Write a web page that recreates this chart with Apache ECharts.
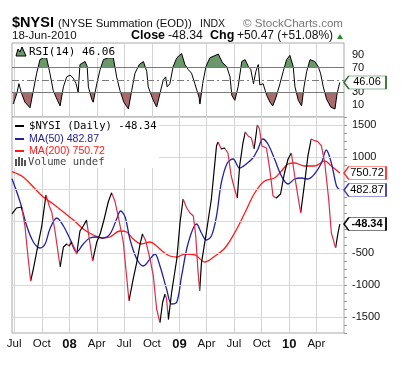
<!DOCTYPE html>
<html><head><meta charset="utf-8">
<script src="https://cdn.jsdelivr.net/npm/echarts@6/dist/echarts.min.js"></script>
<style>html,body{margin:0;padding:0;background:#fff}#c{width:414px;height:369px}</style>
</head><body><div id="c"></div>
<script>
// ---------------- DATA ----------------
const nysiDates = ['2007-06-24','2007-07-09','2007-07-26','2007-08-06','2007-08-17','2007-08-25','2007-09-03','2007-09-14','2007-10-01','2007-10-15','2007-10-26','2007-11-03','2007-11-14','2007-12-01','2007-12-12','2007-12-23','2007-12-31','2008-01-08','2008-01-19','2008-01-25','2008-02-05','2008-02-16','2008-02-27','2008-03-07','2008-03-18','2008-04-01','2008-04-12','2008-04-23','2008-05-09','2008-05-20','2008-05-31','2008-06-11','2008-06-28','2008-07-09','2008-07-17','2008-07-31','2008-08-12','2008-08-23','2008-08-31','2008-09-11','2008-09-25','2008-10-06','2008-10-17','2008-10-28','2008-11-06','2008-11-14','2008-11-19','2008-11-25','2008-12-06','2008-12-23','2009-01-03','2009-01-13','2009-01-25','2009-02-05','2009-02-16','2009-02-24','2009-03-03','2009-03-09','2009-03-15','2009-03-31','2009-04-17','2009-05-04','2009-05-09','2009-05-20','2009-05-31','2009-06-11','2009-06-22','2009-07-03','2009-07-12','2009-07-20','2009-07-31','2009-08-08','2009-08-17','2009-08-28','2009-09-06','2009-09-17','2009-09-24','2009-10-02','2009-10-17','2009-10-28','2009-11-08','2009-11-19','2009-12-03','2009-12-16','2009-12-28','2010-01-08','2010-01-19','2010-01-28','2010-02-08','2010-02-21','2010-03-04','2010-03-15','2010-03-26','2010-04-06','2010-04-18','2010-04-29','2010-05-12','2010-05-21','2010-06-04','2010-06-12','2010-06-18'];
const nysiValues = [110,203,219,-78,-594,-938,-750,-484,-78,406,234,141,-156,-719,-406,-359,-391,-328,-438,-516,-156,-78,16,-281,-625,-328,-203,-16,297,440,313,78,-328,-859,-1250,-906,-641,-359,-203,-313,-594,-859,-1375,-1590,-1266,-1141,-1219,-1540,-1109,-594,-16,344,203,125,78,-234,-750,-1094,-656,-188,344,1172,1234,1125,1141,1063,703,500,359,859,1219,1391,1328,1297,1125,1500,1438,1172,1141,813,391,359,422,750,969,1063,703,438,125,594,1016,1281,1255,1240,1172,906,344,-188,-420,-188,-48.34];

const ma50Dates = ['2007-06-24','2007-07-21','2007-08-12','2007-09-03','2007-09-25','2007-10-12','2007-10-28','2007-11-20','2007-12-12','2008-01-03','2008-01-25','2008-02-16','2008-03-09','2008-04-01','2008-04-23','2008-05-15','2008-06-06','2008-06-19','2008-07-04','2008-07-20','2008-08-12','2008-09-03','2008-09-25','2008-10-11','2008-10-28','2008-11-19','2008-12-06','2008-12-23','2009-01-08','2009-01-30','2009-02-27','2009-03-15','2009-03-31','2009-04-17','2009-05-04','2009-05-20','2009-06-09','2009-06-28','2009-07-20','2009-08-11','2009-09-02','2009-09-19','2009-10-05','2009-10-22','2009-11-13','2009-12-06','2009-12-28','2010-01-19','2010-02-10','2010-03-04','2010-03-26','2010-04-18','2010-05-04','2010-05-21','2010-06-07','2010-06-18'];
const ma50Values = [660,297,-78,-328,-422,-359,-125,47,-78,-281,-484,-359,-266,-250,-266,-203,31,156,63,-281,-594,-703,-594,-516,-703,-1063,-1297,-1266,-859,-344,-47,-188,-297,-234,78,594,906,969,828,891,984,1125,1281,1203,969,703,578,656,672,656,734,906,1109,906,547,482.87];

const ma200Dates = ['2007-06-24','2007-07-31','2007-09-03','2007-10-06','2007-11-08','2007-12-12','2008-01-14','2008-02-16','2008-03-20','2008-04-17','2008-05-15','2008-06-17','2008-07-09','2008-07-31','2008-08-28','2008-09-25','2008-10-17','2008-11-08','2008-11-30','2008-12-23','2009-01-19','2009-02-21','2009-03-27','2009-04-29','2009-06-01','2009-07-03','2009-08-06','2009-09-08','2009-10-11','2009-11-13','2009-12-06','2009-12-28','2010-01-19','2010-02-21','2010-03-26','2010-04-29','2010-05-21','2010-06-18'];
const ma200Values = [770,688,531,375,266,141,16,-125,-219,-266,-250,-156,-172,-281,-359,-328,-391,-484,-547,-563,-516,-531,-641,-547,-422,-188,125,438,625,672,781,891,906,859,859,938,859,750.72];

const rsiDates = ['2007-06-28','2007-07-10','2007-07-17','2007-07-26','2007-08-06','2007-08-23','2007-09-03','2007-09-14','2007-09-25','2007-10-06','2007-10-17','2007-10-28','2007-11-08','2007-11-22','2007-12-01','2007-12-12','2007-12-23','2008-01-03','2008-01-14','2008-01-23','2008-01-30','2008-02-05','2008-02-22','2008-02-29','2008-03-04','2008-03-15','2008-03-20','2008-04-01','2008-04-12','2008-04-23','2008-05-09','2008-05-26','2008-06-06','2008-06-17','2008-06-30','2008-07-15','2008-07-26','2008-08-06','2008-08-20','2008-09-03','2008-09-14','2008-09-19','2008-10-04','2008-10-17','2008-10-28','2008-11-08','2008-11-16','2008-11-21','2008-11-30','2008-12-11','2008-12-23','2009-01-08','2009-01-19','2009-01-30','2009-02-10','2009-02-21','2009-03-07','2009-03-10','2009-03-19','2009-03-30','2009-04-12','2009-05-10','2009-05-24','2009-06-07','2009-06-18','2009-06-24','2009-07-04','2009-07-15','2009-07-27','2009-08-07','2009-08-18','2009-08-26','2009-09-04','2009-09-12','2009-09-20','2009-09-25','2009-10-06','2009-10-18','2009-10-29','2009-11-07','2009-11-18','2009-12-01','2009-12-12','2009-12-23','2010-01-03','2010-01-14','2010-01-20','2010-01-31','2010-02-11','2010-02-19','2010-02-28','2010-03-11','2010-03-27','2010-04-07','2010-04-15','2010-04-24','2010-05-05','2010-05-19','2010-06-02','2010-06-09','2010-06-18'];
const rsiValues = [11,28,44,28,14,5,33,61,83,86,86,61,33,17,8,39,55,58,53,44,30,75,80,72,39,19,14,44,67,83,86,86,55,33,14,3,33,61,75,80,64,39,19,6,28,50,55,39,44,72,86,93,75,67,61,44,22,11,44,72,86,92,78,72,55,25,17,39,80,83,72,67,44,64,75,42,44,25,14,8,22,44,64,83,90,72,39,17,8,39,64,83,80,72,61,39,19,6,3,28,46.06];

const xTickDates  = ['2007-07-01','2007-10-01','2008-01-01','2008-04-01','2008-07-01','2008-10-01','2009-01-01','2009-04-01','2009-07-01','2009-10-01','2010-01-01','2010-04-01'];
const xTickLabels = ['Jul','Oct','08','Apr','Jul','Oct','09','Apr','Jul','Oct','10','Apr'];
const yMainLabels = [1500,1000,-500,-1000,-1500];
const yMainGrid = [1500,1000,500,0,-500,-1000,-1500];
const yRsiLabels = [90,70,30,10];

// ---------------- BUILD ----------------
const START = Date.UTC(2007,5,24);
const N_DAYS = 1105;
function dayIdx(s){const p=s.split('-').map(Number);return Math.round((Date.UTC(p[0],p[1]-1,p[2])-START)/864e5);}
function fmtDay(i){return new Date(START+i*864e5).toISOString().slice(0,10);}
const categories = Array.from({length:N_DAYS},(_,i)=>fmtDay(i));
const pairs=(ds,vs)=>ds.map((d,i)=>[dayIdx(d),vs[i]]);
const tickMap = {}; xTickDates.forEach((d,i)=>tickMap[d]=xTickLabels[i]);
const isTick = (idx,val)=> tickMap.hasOwnProperty(val);
const LAST = N_DAYS-1;
const F = 'Liberation Sans, Arial, sans-serif';
const MONO = 'DejaVu Sans Mono, monospace';

// direction pieces for NYSI (black rising, red falling)
const nysiData = pairs(nysiDates,nysiValues);
const pieces = [];
for (let i=0;i<nysiData.length-1;i++){
  const up = nysiValues[i+1] >= nysiValues[i];
  const col = up ? '#000000' : '#dc2a45';
  const a = nysiData[i][0], b = nysiData[i+1][0];
  if (pieces.length && pieces[pieces.length-1].color===col) pieces[pieces.length-1].lt = b;
  else pieces.push({gte:a, lt:b, color:col});
}
pieces[0].gte = -10;
pieces[pieces.length-1].lt = N_DAYS+10;

function tag(value, border, bold){
  return {
    silent:true, z:20,
    symbol:'path://M0,6.5 L5,0 L44,0 L44,13 L5,13 Z',
    symbolSize:[42,13], symbolOffset:[21,0], symbolKeepAspect:false,
    itemStyle:{color:'#fff', borderColor:border, borderWidth:1},
    label:{show:true, position:'inside', offset:[2,0], formatter: value.toFixed(2), color:'#000', fontSize:11, fontWeight: bold?'bold':'normal', fontFamily:F},
    data:[{coord:[LAST, value]}]
  };
}

const xCommon = {
  type:'category', data:categories, boundaryGap:false,
  axisLine:{show:false}, axisTick:{show:false},
  splitLine:{show:true, interval:isTick, lineStyle:{color:'#d4d4d4', width:1}}
};

const option = {
  animation:false,
  backgroundColor:'#fff',
  grid:[
    {left:12, width:332, top:43, height:74, show:true, borderColor:'#a8a8a8', borderWidth:1, backgroundColor:'#fff'},
    {left:12, width:332, top:117, height:216, show:true, borderColor:'#a8a8a8', borderWidth:1, backgroundColor:'#fff'}
  ],
  xAxis:[
    Object.assign({gridIndex:0, axisLabel:{show:false}}, xCommon),
    Object.assign({gridIndex:1, axisLabel:{
      show:true, interval:isTick, margin:5, color:'#111', fontSize:11.5, fontFamily:F,
      formatter:(v)=>{const l=tickMap[v]; if(l===undefined) return ''; return /^\d+$/.test(l)?'{y|'+l+'}':l;},
      rich:{y:{fontWeight:'bold', fontSize:13, fontFamily:F, color:'#111'}}
    }}, xCommon)
  ],
  yAxis:[
    {gridIndex:0, type:'value', position:'right', min:-10, max:110, interval:10,
     axisLine:{show:false}, axisTick:{show:false}, splitLine:{show:false},
     axisLabel:{margin:8, color:'#111', fontSize:11, fontFamily:F, formatter:(v)=>yRsiLabels.indexOf(v)>=0?String(v):''}},
    {gridIndex:1, type:'value', position:'right', min:-1750, max:1625, interval:125,
     axisLine:{show:false}, axisTick:{show:true, length:3, lineStyle:{color:'#999'}}, splitLine:{show:false},
     axisLabel:{margin:8, color:'#111', fontSize:11, fontFamily:F, formatter:(v)=>yMainLabels.indexOf(v)>=0?String(v):''}}
  ],
  visualMap:[
    {type:'piecewise', show:false, seriesIndex:1, dimension:1,
     pieces:[{gte:-100, lt:70, color:'rgba(255,255,255,0)'},{gte:70, lte:200, color:'#6a986a'}]},
    {type:'piecewise', show:false, seriesIndex:2, dimension:1,
     pieces:[{gte:-100, lte:30, color:'#a86a6a'},{gt:30, lte:200, color:'rgba(255,255,255,0)'}]},
    {type:'piecewise', show:false, seriesIndex:6, dimension:0, pieces:pieces}
  ],
  series:[
    {type:'line', xAxisIndex:1, yAxisIndex:1, data:[], z:1,
     markLine:{silent:true, symbol:'none', label:{show:false}, lineStyle:{color:'#d8d8d8', width:1, type:'solid'},
       data:yMainGrid.map(v=>({yAxis:v}))}},
    {type:'line', xAxisIndex:0, yAxisIndex:0, data:pairs(rsiDates,rsiValues), symbol:'none', z:2,
     lineStyle:{width:0}, areaStyle:{origin:'start', opacity:1}},
    {type:'line', xAxisIndex:0, yAxisIndex:0, data:pairs(rsiDates,rsiValues), symbol:'none', z:2,
     lineStyle:{width:0}, areaStyle:{origin:'end', opacity:1}},
    {type:'line', xAxisIndex:0, yAxisIndex:0, data:pairs(rsiDates,rsiValues), symbol:'none', z:4,
     lineStyle:{color:'#000', width:1}, itemStyle:{color:'#000'},
     markLine:{silent:true, symbol:'none', label:{show:false},
       data:[{yAxis:70, lineStyle:{color:'#7a7a7a', width:1, type:'solid'}},
             {yAxis:30, lineStyle:{color:'#7a7a7a', width:1, type:'solid'}},
             {yAxis:50, lineStyle:{color:'#7a7a7a', width:1, type:[7,3,2,3]}}]},
     markPoint:tag(rsiValues[rsiValues.length-1], '#2e6e2e', false)},
    {type:'line', xAxisIndex:1, yAxisIndex:1, data:pairs(ma200Dates,ma200Values), symbol:'none', smooth:0.35, z:3,
     lineStyle:{color:'#ff1a1a', width:1.3}, itemStyle:{color:'#ff1a1a'},
     markPoint:tag(ma200Values[ma200Values.length-1], '#ff2a2a', false)},
    {type:'line', xAxisIndex:1, yAxisIndex:1, data:pairs(ma50Dates,ma50Values), symbol:'none', smooth:0.35, z:4,
     lineStyle:{color:'#2222a2', width:1.3}, itemStyle:{color:'#2222a2'},
     markPoint:tag(ma50Values[ma50Values.length-1], '#3a3aa8', false)},
    {type:'line', xAxisIndex:1, yAxisIndex:1, data:nysiData, symbol:'none', z:5,
     lineStyle:{width:1.2},
     markPoint:tag(nysiValues[nysiValues.length-1], '#000', true)}
  ],
  graphic:[
    {type:'text', x:12, y:23, z:50, style:{text:'$NYSI', font:'bold 14.5px '+F, fill:'#000', verticalAlign:'middle'}},
    {type:'text', x:58, y:24, z:50, style:{text:'(NYSE Summation (EOD))', font:'11.3px '+F, fill:'#111', verticalAlign:'middle'}},
    {type:'text', x:200, y:24, z:50, style:{text:'INDX', font:'10.5px '+F, fill:'#111', verticalAlign:'middle'}},
    {type:'text', x:243, y:24, z:50, style:{text:'© StockCharts.com', font:'11.6px '+F, fill:'#777', verticalAlign:'middle'}},
    {type:'text', x:12, y:36, z:50, style:{text:'18-Jun-2010', font:'11.5px '+F, fill:'#111', verticalAlign:'middle'}},
    {type:'text', x:131, y:36, z:50, style:{text:'Close', font:'bold 12.5px '+F, fill:'#000', verticalAlign:'middle'}},
    {type:'text', x:168, y:36, z:50, style:{text:'-48.34', font:'12.3px '+F, fill:'#111', verticalAlign:'middle'}},
    {type:'text', x:210, y:36, z:50, style:{text:'Chg', font:'bold 12.5px '+F, fill:'#000', verticalAlign:'middle'}},
    {type:'text', x:237, y:36, z:50, style:{text:'+50.47 (+51.08%)', font:'12px '+F, fill:'#111', verticalAlign:'middle'}},
    {type:'polygon', z:50, shape:{points:[[337,39],[343,39],[340,34]]}, style:{fill:'#2a8a2a'}},
    {type:'rect', z:40, shape:{x:13, y:44, width:106, height:14}, style:{fill:'#fff'}},
    {type:'polygon', z:50, shape:{points:[[16,56],[18,49],[20,52],[22,47],[26,56]]}, style:{fill:'#6a986a', stroke:'#000', lineWidth:1}},
    {type:'text', x:29, y:52, z:50, style:{text:'RSI(14) 46.06', font:'11px '+MONO, fill:'#000', verticalAlign:'middle'}},
    {type:'rect', z:40, shape:{x:13, y:118, width:146, height:50}, style:{fill:'#fff'}},
    {type:'line', z:50, shape:{x1:15,y1:126,x2:24,y2:126}, style:{stroke:'#000', lineWidth:2}},
    {type:'text', x:29, y:126, z:50, style:{text:'$NYSI (Daily) -48.34', font:'10.6px '+MONO, fill:'#000', verticalAlign:'middle'}},
    {type:'line', z:50, shape:{x1:15,y1:139,x2:24,y2:139}, style:{stroke:'#22229a', lineWidth:2}},
    {type:'text', x:29, y:139, z:50, style:{text:'MA(50) 482.87', font:'10.6px '+F, fill:'#22229a', verticalAlign:'middle'}},
    {type:'line', z:50, shape:{x1:15,y1:151,x2:24,y2:151}, style:{stroke:'#ff1a1a', lineWidth:2}},
    {type:'text', x:29, y:151, z:50, style:{text:'MA(200) 750.72', font:'10.6px '+F, fill:'#ff1a1a', verticalAlign:'middle'}},
    {type:'rect', z:50, shape:{x:15, y:159, width:2, height:7}, style:{fill:'#555'}},
    {type:'rect', z:50, shape:{x:18, y:157, width:2, height:9}, style:{fill:'#555'}},
    {type:'rect', z:50, shape:{x:21, y:158, width:2, height:8}, style:{fill:'#555'}},
    {type:'rect', z:50, shape:{x:24, y:160, width:2, height:6}, style:{fill:'#555'}},
    {type:'text', x:28, y:162, z:50, style:{text:'Volume undef', font:'10.6px '+MONO, fill:'#444', verticalAlign:'middle'}}
  ]
};
const chart = echarts.init(document.getElementById('c'), null, {renderer:'canvas'});
chart.setOption(option);
</script></body></html>
